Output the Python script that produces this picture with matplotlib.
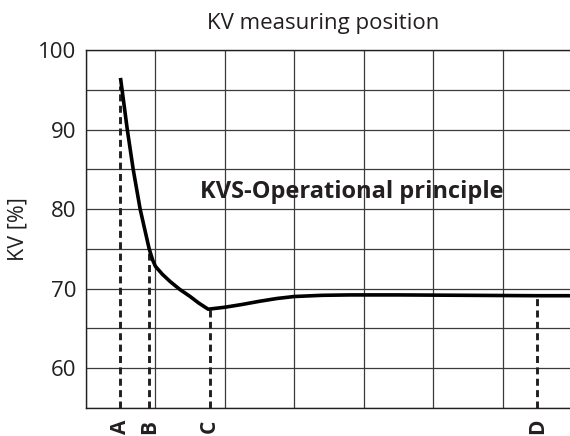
import matplotlib
matplotlib.use("Agg")
import matplotlib.pyplot as plt
from matplotlib.transforms import blended_transform_factory

plt.rcParams['font.family'] = ['Open Sans', 'DejaVu Sans']

# Curve data (KV % vs. position)
curve_x = [0.50, 0.52, 0.595, 0.68, 0.73, 0.78, 0.85, 0.91, 0.96, 1.0, 1.1, 1.21, 1.35,
           1.5, 1.62, 1.76, 2.0, 2.25, 2.5, 2.75, 3.0, 3.4, 3.8, 4.5, 5.5, 6.5, 7.0]
curve_y = [96.3, 95.0, 90.0, 85.0, 82.5, 80.0, 77.3, 75.0, 73.6, 72.8, 71.8, 70.9, 69.9,
           69.0, 68.2, 67.4, 67.65, 68.0, 68.4, 68.75, 69.0, 69.15, 69.2, 69.2, 69.15, 69.1, 69.1]

# Measuring positions
marker_labels = ['A', 'B', 'C', 'D']
marker_x = [0.49, 0.91, 1.78, 6.50]
marker_top = [95.5, 75.0, 67.4, 69.1]

y_ticks = [60, 70, 80, 90, 100]
y_grid = [55, 65, 75, 85, 95]
x_grid = [0, 1, 2, 3, 4, 5, 6, 7]

fig = plt.figure(figsize=(5.70, 4.36), dpi=100)
ax = fig.add_axes([86/570, 28.3/436, (572-86)/570, (407.7-50.3)/436])

ax.set_xlim(0, 7)
ax.set_ylim(55, 100)

ax.set_yticks(y_ticks)
ax.set_yticks(y_grid, minor=True)
ax.set_xticks(x_grid)
ax.set_xticklabels([])
ax.tick_params(axis='both', which='both', length=0)
ax.tick_params(axis='y', labelsize=16, pad=7, colors='#231f20')
ax.grid(True, which='both', color='#3a3a3a', linewidth=0.9)
ax.set_axisbelow(True)
for s in ax.spines.values():
    s.set_color('#231f20')
    s.set_linewidth(1.0)

for mx, mt in zip(marker_x, marker_top):
    ax.plot([mx, mx], [55, mt], color='#231f20', lw=2.1, linestyle=(0, (2.4, 1.5)),
            solid_capstyle='butt', clip_on=False, zorder=3)

ax.plot(curve_x, curve_y, color='black', lw=2.6, solid_joinstyle='round', zorder=4)

trans = blended_transform_factory(ax.transData, fig.transFigure)
for lab, mx in zip(marker_labels, marker_x):
    ax.text(mx, 1 - 426.5/436, lab, transform=trans, rotation=90, ha='center', va='center',
            fontsize=15, fontweight='bold', color='#231f20')

ax.text(1.64, 82.2, 'KVS-Operational principle', fontsize=17, fontweight='bold',
        ha='left', va='center', color='#231f20')

ax.set_ylabel('KV [%]', fontsize=15.5, color='#231f20', labelpad=7)
fig.text(323/570, 1 - 24/436, 'KV measuring position', ha='center', va='center',
         fontsize=16, color='#231f20')

fig.savefig('out.png', dpi=100)
